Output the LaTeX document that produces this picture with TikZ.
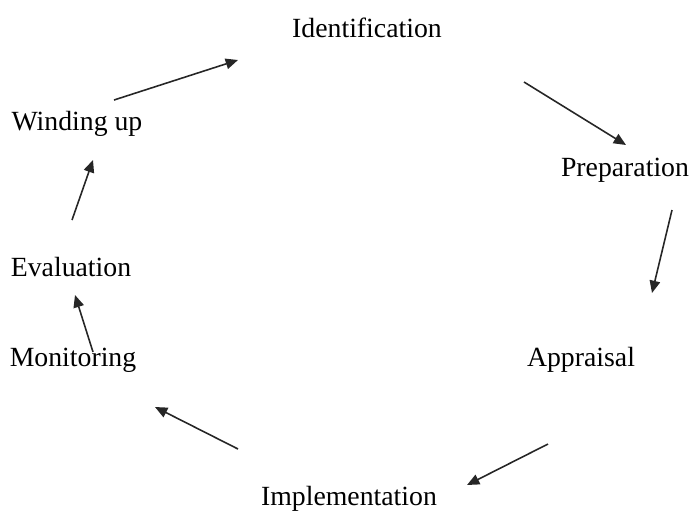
\documentclass[tikz,border=0pt]{standalone}
\usepackage{fontspec}
\setmainfont{Liberation Serif}
\usetikzlibrary{arrows.meta}

\begin{document}
\begin{tikzpicture}[x=0.02cm, y=-0.02cm,
  stage/.style={font=\fontsize{15.8}{19}\selectfont, inner sep=0pt},
  cyc/.style={-{Triangle[length=7pt, width=6pt]}, line width=0.9pt, draw=black!85}]
  \useasboundingbox (0,0) rectangle (690,515);
  % stages of the cycle
  \node[stage] (ident) at (367,28) {Identification};
  \node[stage] (prep)  at (625,170) {Preparation};
  \node[stage] (appr)  at (581,360) {Appraisal};
  \node[stage] (impl)  at (349,499) {Implementation};
  \node[stage] (moni)  at (73,360) {Monitoring};
  \node[stage] (eval)  at (71,267) {Evaluation};
  \node[stage] (wind)  at (77,124) {Winding up};
  % arrow ends
  \coordinate (a1) at (114,100); \coordinate (b1) at (238,60);
  \coordinate (a2) at (524,82);  \coordinate (b2) at (626,145);
  \coordinate (a3) at (672,210); \coordinate (b3) at (652,293);
  \coordinate (a4) at (548,444); \coordinate (b4) at (467,485);
  \coordinate (a5) at (238,449); \coordinate (b5) at (155,407);
  \coordinate (a6) at (93,352);  \coordinate (b6) at (75,295);
  \coordinate (a7) at (72,220);  \coordinate (b7) at (93,160);
  \foreach \i in {1,...,7}
    \draw[cyc] (a\i) -- (b\i);
\end{tikzpicture}
\end{document}
